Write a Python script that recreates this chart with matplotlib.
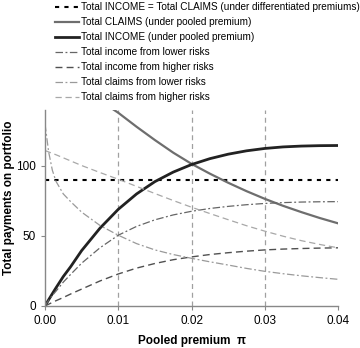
import numpy as np
import matplotlib
matplotlib.use('Agg')
import matplotlib.pyplot as plt
from matplotlib import rcParams

rcParams['font.family'] = 'sans-serif'
rcParams['font.sans-serif'] = ['Liberation Sans', 'DejaVu Sans']

# pooled premium grid
pi = [0, 0.0005, 0.001, 0.0015, 0.0025, 0.0035, 0.005, 0.0075, 0.01, 0.0125, 0.015,
      0.0175, 0.02, 0.0225, 0.025, 0.0275, 0.03, 0.0325, 0.035, 0.0375, 0.04]
income_pooled = [0, 4.4, 8.7, 12.9, 21, 28, 39.5, 55.5, 69, 80, 88.8,
                 95.6, 101, 105.2, 108.4, 110.8, 112.5, 113.6, 114.2, 114.5, 114.6]
income_lower = [0, 4, 7.5, 10.5, 17, 22.5, 30.5, 41.5, 50.5, 56.8, 61.5,
                65, 67.6, 69.6, 71.1, 72.3, 73.2, 73.8, 74.2, 74.4, 74.5]
income_higher = [0, 1.2, 2.5, 3.7, 6, 8.5, 12, 17.8, 22.8, 27, 30.3,
                 33, 35, 36.7, 38, 39.1, 40, 40.6, 41, 41.3, 41.5]
claims_lower = [130, 110, 97, 89, 80, 74.5, 67, 57.5, 50.5, 44.5, 40,
                36.7, 34, 31.5, 29.2, 26.8, 24.7, 23, 21.5, 20.2, 19]
claims_higher = [111, 110, 109, 108, 105.8, 103.6, 100.3, 95.3, 90.5, 85.4, 80.3,
                 75.3, 70.5, 66, 61.6, 57.3, 53.4, 49.8, 46.6, 43.9, 41.5]
# pooled claims only visible from about pi = 0.009
pi_claims = [0.009, 0.01, 0.0125, 0.015, 0.0175, 0.02, 0.0225, 0.025, 0.0275,
             0.03, 0.0325, 0.035, 0.0375, 0.04]
claims_pooled = [141.5, 138, 128, 118.5, 109.5, 101.5, 94.5, 88, 82,
                 76.5, 71.5, 67, 62.8, 59]
diff_level = 90  # income = claims under differentiated premiums
vlines = [0.01, 0.02, 0.03]

fig = plt.figure(figsize=(3.6, 3.48), dpi=100)
ax = fig.add_axes([0.125, 0.121, 0.814, 0.563])

for v in vlines:
    ax.axvline(v, color='#a0a0a0', lw=0.9, ls=(0, (4, 3)), zorder=1)

ax.plot([0, 0.04], [diff_level, diff_level], color='black', lw=1.5, ls=(0, (2, 2.5)),
        label='Total INCOME = Total CLAIMS (under differentiated premiums)')
ax.plot(pi_claims, claims_pooled, color='#6e6e6e', lw=1.6,
        label='Total CLAIMS (under pooled premium)')
ax.plot(pi, income_pooled, color='#222222', lw=2.0,
        label='Total INCOME (under pooled premium)')
ax.plot(pi, income_lower, color='#666666', lw=0.9, ls=(0, (6, 2, 1.5, 2)),
        label='Total income from lower risks')
ax.plot(pi, income_higher, color='#505050', lw=1.0, ls=(0, (5, 3)),
        label='Total income from higher risks')
ax.plot(pi, claims_lower, color='#9a9a9a', lw=0.9, ls=(0, (6, 2, 1.5, 2)),
        label='Total claims from lower risks')
ax.plot(pi, claims_higher, color='#a8a8a8', lw=0.9, ls=(0, (5, 3)),
        label='Total claims from higher risks')

ax.set_xlim(0, 0.04)
ax.set_ylim(0, 140)
ax.set_xticks([0, 0.01, 0.02, 0.03, 0.04])
ax.set_xticklabels(['0.00', '0.01', '0.02', '0.03', '0.04'])
ax.set_yticks([0, 50, 100])
ax.tick_params(labelsize=8.5, color='#888888', length=3, width=0.8)
for s in ['top', 'right']:
    ax.spines[s].set_visible(False)
for s in ['left', 'bottom']:
    ax.spines[s].set_color('#888888')
    ax.spines[s].set_linewidth(1.0)

ax.set_xlabel('Pooled premium  \u03c0', fontsize=8.5, fontweight='bold', labelpad=6)
ax.set_ylabel('Total payments on portfolio', fontsize=8.5, fontweight='bold')
ax.yaxis.set_label_coords(-0.102, 0.553)

fig.legend(loc='upper left', bbox_to_anchor=(0.147, 1.0), frameon=False, fontsize=7.2,
           handlelength=2.4, handletextpad=0.2, labelspacing=0.5,
           borderpad=0.2, borderaxespad=0)

fig.savefig('out.png', dpi=100)
